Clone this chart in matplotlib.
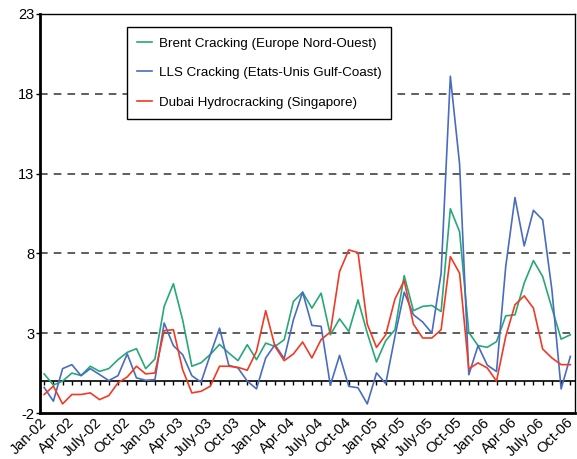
import numpy as np
import matplotlib.pyplot as plt
import matplotlib.transforms as mtransforms

plt.rcParams['font.family'] = ['Liberation Sans', 'DejaVu Sans']

# monthly margins, Jan-02 .. Oct-06 ($/bbl)
brent = [0.45, -0.25, 0.0, 0.5, 0.35, 0.93, 0.61, 0.78, 1.34, 1.8, 2.03, 0.78,
         1.38, 4.68, 6.1, 3.84, 0.93, 1.15, 1.67, 2.3, 1.76, 1.28, 2.28, 1.34,
         2.38, 2.17, 2.59, 4.99, 5.57, 4.57, 5.51, 2.9, 3.9, 3.11, 5.09, 3.01,
         1.2, 2.53, 3.22, 6.61, 4.41, 4.68, 4.74, 4.36, 10.8, 9.36, 3.05, 2.22,
         2.12, 2.47, 4.09, 4.15, 6.14, 7.55, 6.55, 4.58, 2.63, 2.9]
lls = [-0.4, -1.26, 0.78, 1.03, 0.34, 0.78, 0.41, 0.03, 0.34, 1.7, 0.2, 0.05,
       0.09, 3.64, 2.22, 1.66, 0.34, -0.07, 1.66, 3.32, 0.99, 0.82, 0.0, -0.49,
       1.45, 2.28, 1.41, 3.84, 5.57, 3.49, 3.43, -0.26, 1.61, -0.33, -0.42, -1.43,
       0.51, -0.16, 2.8, 5.57, 4.16, 3.7, 3.01, 6.76, 19.1, 13.6, 0.4, 2.22,
       1.0, 0.6, 7.18, 11.5, 8.47, 10.7, 10.1, 5.72, -0.49, 1.55]
dubai = [-0.84, -0.32, -1.43, -0.84, -0.84, -0.74, -1.16, -0.91, -0.11, 0.26, 0.93, 0.45,
         0.51, 3.16, 3.22, 0.72, -0.74, -0.64, -0.32, 0.93, 0.93, 0.86, 0.68, 1.86,
         4.41, 2.18, 1.28, 1.7, 2.45, 1.45, 2.6, 3.07, 6.86, 8.22, 8.05, 3.57,
         2.11, 2.9, 5.14, 6.3, 3.57, 2.7, 2.7, 3.22, 7.8, 6.76, 0.76, 1.14,
         0.82, 0.0, 2.8, 4.78, 5.34, 4.57, 2.01, 1.45, 1.03, 1.03]

quarters = ['Jan', 'Apr', 'July', 'Oct']
years = ['02', '03', '04', '05', '06']
tick_labels = [f'{q}-{y}' for y in years for q in quarters]
y_ticks = [-2, 3, 8, 13, 18, 23]
grid_levels = [3, 8, 13, 18]

labels = ['Brent Cracking (Europe Nord-Ouest)',
          'LLS Cracking (Etats-Unis Gulf-Coast)',
          'Dubai Hydrocracking (Singapore)']
colors = ['#27a878', '#4a6cc0', '#f03a24']

x = np.arange(len(brent))

fig = plt.figure(figsize=(5.77, 4.59), dpi=100)
ax = fig.add_axes([0.0693, 0.1002, 0.9272, 0.8693])

for lvl in grid_levels:
    ax.axhline(lvl, color='#333333', lw=1.1, ls=(0, (5, 4)), zorder=1)
ax.axhline(0, color='black', lw=1.2, zorder=2)
# monthly ticks hanging under the zero line
ax.vlines(x, -0.22, 0, color='black', lw=1, zorder=2)

for s, lab, c in zip([brent, lls, dubai], labels, colors):
    ax.plot(x, s, color=c, lw=1.2, label=lab, zorder=3)

ax.set_xlim(-0.45, 57.5)
ax.set_ylim(-2, 23)
ax.set_yticks(y_ticks)
ax.set_yticklabels([str(v) for v in y_ticks], fontsize=10.5)
ax.tick_params(axis='y', length=3, width=1, pad=1)

ax.set_xticks(x[::3])
ax.set_xticklabels(tick_labels[:len(x[::3])], rotation=45, ha='right',
                   va='top', rotation_mode='anchor', fontsize=10.5)
ax.tick_params(axis='x', length=0, pad=1.5)
shift = mtransforms.ScaledTranslation(-5 / 100, 0, fig.dpi_scale_trans)
for t in ax.get_xticklabels():
    t.set_transform(t.get_transform() + shift)

ax.spines['left'].set_linewidth(2)
ax.spines['bottom'].set_linewidth(2)
ax.spines['top'].set_linewidth(1)
ax.spines['right'].set_linewidth(1)

leg = ax.legend(loc='upper left', bbox_to_anchor=(0.1626, 0.967), fontsize=9.6,
                frameon=True, fancybox=False, handlelength=1.13, borderaxespad=0,
                labelspacing=1.29, borderpad=0.75, handletextpad=0.5)
leg.get_frame().set_edgecolor('black')
leg.get_frame().set_linewidth(1)
leg.get_frame().set_alpha(1)

fig.savefig('out.png', dpi=100)
